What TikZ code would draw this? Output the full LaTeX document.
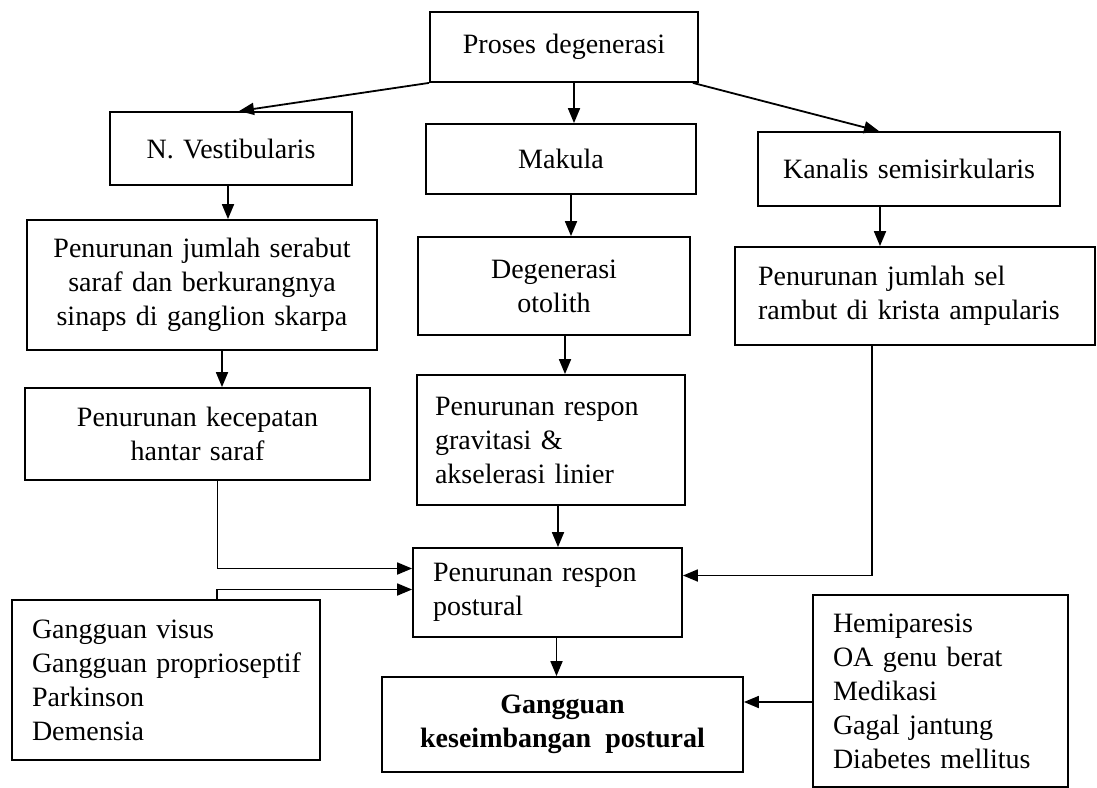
\documentclass[tikz,border=0pt]{standalone}
\usepackage{fontspec}
\setmainfont{Liberation Serif}
\usetikzlibrary{arrows.meta}
\hyphenpenalty=10000
\exhyphenpenalty=10000
\hfuzz=40pt
\begin{document}
\begin{tikzpicture}[x=1pt,y=-1pt,
  box/.style={draw, line width=1.8pt, inner xsep=16pt, inner ysep=0pt,
    font=\fontsize{28}{34}\selectfont, anchor=center},
  ctr/.style={align=center},
  lft/.style={align=left},
  arr/.style={line width=1.8pt, -{Triangle[length=15pt,width=12pt]}}]
\useasboundingbox (0,0) rectangle (1097,787);

% top level
\node[box, ctr, minimum width=268pt, minimum height=70pt, text width=236pt] (proses) at (564,47) {Proses degenerasi};

% second row
\node[box, ctr, minimum width=242pt, minimum height=73pt, text width=210pt] (vest) at (231,148.5) {N. Vestibularis};
\node[box, ctr, minimum width=270pt, minimum height=70pt, text width=238pt] (makula) at (561,159) {Makula};
\node[box, ctr, minimum width=302pt, minimum height=74pt, text width=270pt] (kanalis) at (909,169) {Kanalis semisirkularis};

% third row
\node[box, ctr, minimum width=350pt, minimum height=130pt, text width=318pt] (serabut) at (202,285) {Penurunan jumlah serabut\\saraf dan berkurangnya\\sinaps di ganglion skarpa};
\node[box, ctr, minimum width=272pt, minimum height=98pt, text width=240pt] (otolith) at (554,286) {Degenerasi\\otolith};
\node[box, lft, inner xsep=23pt, minimum width=360pt, minimum height=98pt, text width=314pt] (sel) at (915,296) {Penurunan jumlah sel\\rambut di krista ampularis};

% fourth row
\node[box, ctr, minimum width=345pt, minimum height=92pt, text width=313pt] (kecepatan) at (197.5,434) {Penurunan kecepatan\\hantar saraf};
\node[box, lft, inner xsep=18pt, minimum width=268pt, minimum height=130pt, text width=232pt] (gravitasi) at (551,440) {Penurunan respon\\gravitasi \&\\akselerasi linier};

% postural response and outcome
\node[box, lft, inner xsep=20pt, minimum width=269pt, minimum height=89pt, text width=229pt] (postural) at (547.5,592.5) {Penurunan respon\\postural};
\node[box, ctr, minimum width=361pt, minimum height=95pt, text width=329pt, font=\fontsize{28}{34}\selectfont\bfseries] (gangguan) at (562.5,724.5) {Gangguan\\keseimbangan\enspace postural};

% side factor lists
\node[box, lft, inner xsep=20pt, minimum width=308pt, minimum height=160pt, text width=268pt] (kiri) at (166,680) {Gangguan visus\\Gangguan~proprioseptif\\Parkinson\\Demensia};
\node[box, lft, inner xsep=20pt, minimum width=255pt, minimum height=192pt, text width=215pt] (kanan) at (940.5,691) {Hemiparesis\\OA genu berat\\Medikasi\\Gagal jantung\\Diabetes~mellitus};

% connectors from the top box
\draw[arr] (proses.south west) -- ([xshift=8pt]vest.north);
\draw[arr] ([xshift=10pt]proses.south) -- ([xshift=10pt]proses.south |- makula.north);
\draw[arr] ([xshift=-6pt]proses.south east) -- ([xshift=-30pt]kanalis.north);

% vertical chains
\draw[arr] ([xshift=-3pt]vest.south) -- ([xshift=-3pt]vest.south |- serabut.north);
\draw[arr] ([xshift=20pt]serabut.south) -- ([xshift=20pt]serabut.south |- kecepatan.north);
\draw[arr] ([xshift=10pt]makula.south) -- ([xshift=10pt]makula.south |- otolith.north);
\draw[arr] ([xshift=11pt]otolith.south) -- ([xshift=11pt]otolith.south |- gravitasi.north);
\draw[arr] ([xshift=7pt]gravitasi.south) -- ([xshift=7pt]gravitasi.south |- postural.north);
\draw[arr] ([xshift=9pt]postural.south) -- ([xshift=9pt]postural.south |- gangguan.north);
\draw[arr] ([xshift=-29pt]kanalis.south) -- ([xshift=-29pt]kanalis.south |- sel.north);

% elbow connectors into the postural response box
\draw[arr] ([xshift=20pt]kecepatan.south) |- ([yshift=24pt]postural.west);
\draw[arr] ([xshift=51pt]kiri.north) |- ([yshift=3pt]postural.west);
\draw[arr] ([xshift=-43pt]sel.south) |- ([yshift=17pt]postural.east);

% right factor list into the outcome
\draw[arr] ([yshift=-11pt]kanan.west) -- ([yshift=-11pt]kanan.west -| gangguan.east);
\end{tikzpicture}
\end{document}
